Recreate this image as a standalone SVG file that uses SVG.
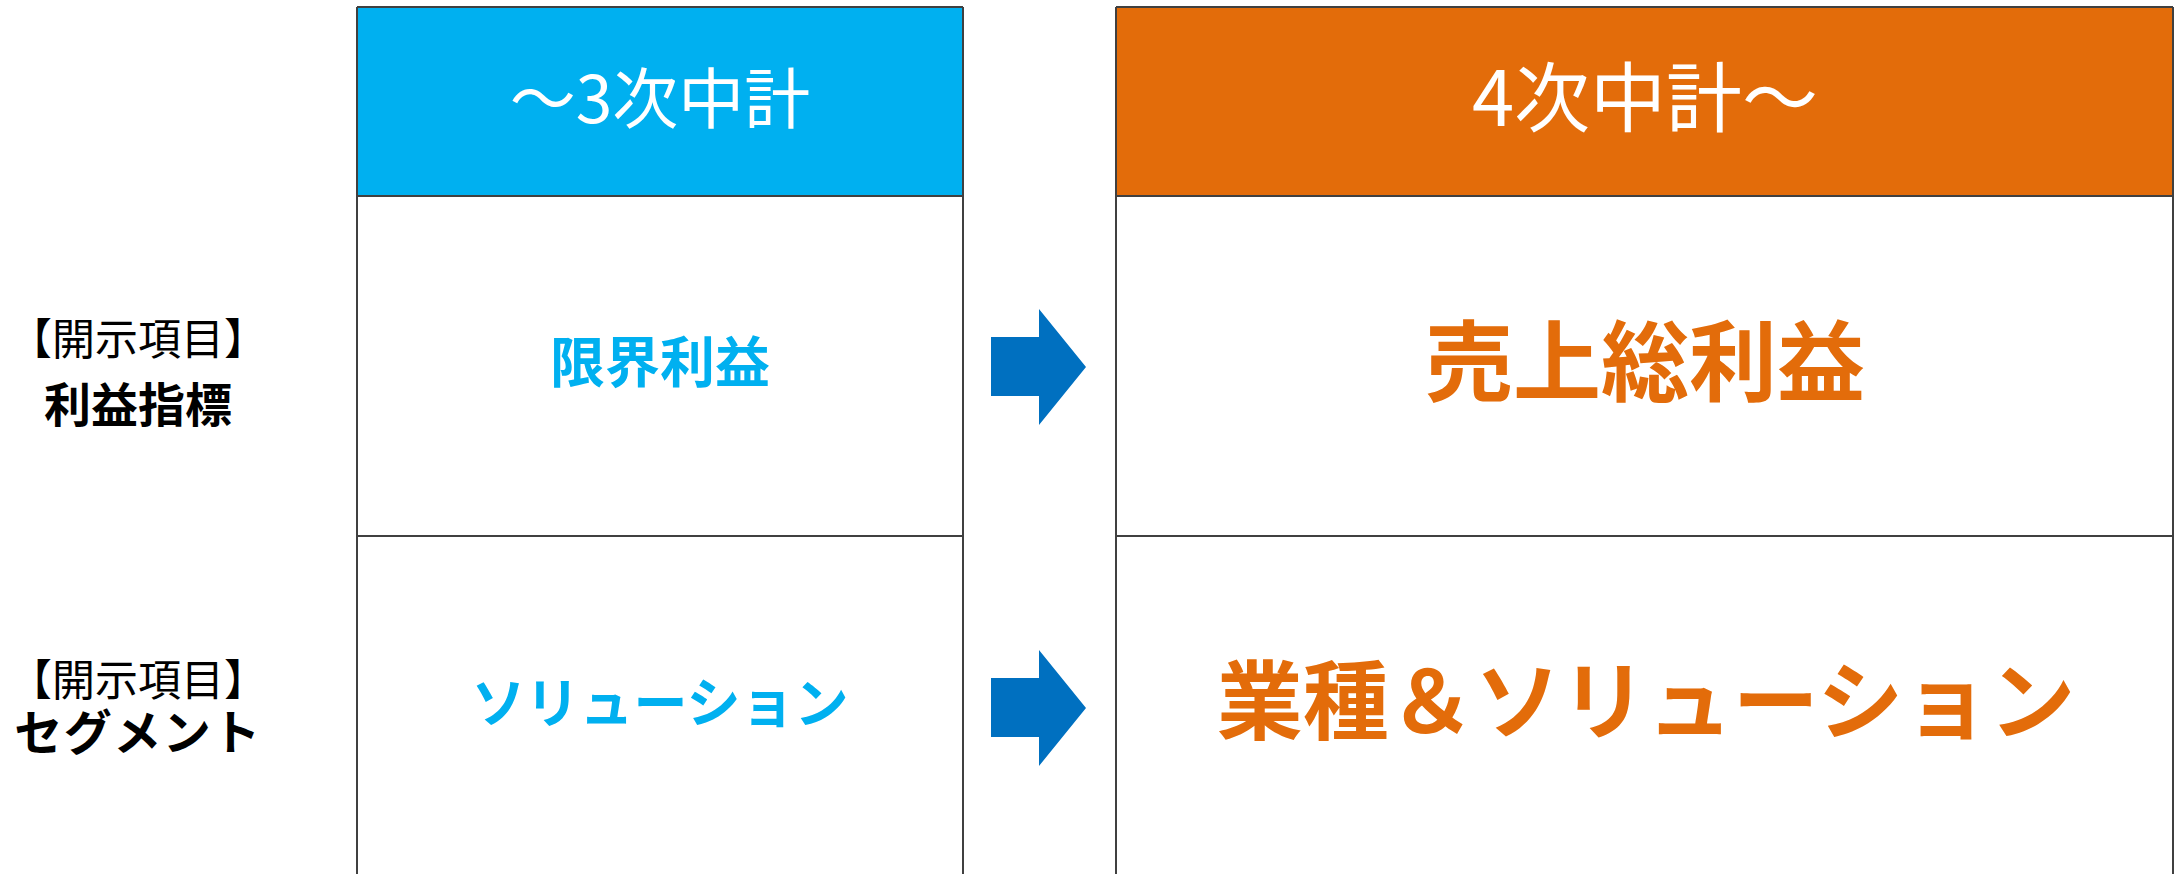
<svg xmlns="http://www.w3.org/2000/svg" width="2176" height="874" viewBox="0 0 2176 874">
<style>
.line{stroke:#404040;stroke-width:2;fill:none}
.jp{font-family:"Noto Sans CJK JP","Noto Sans CJK SC",sans-serif;text-anchor:middle}
.b{font-weight:700}
.hd{fill:#FFFFFF;font-weight:400}
.blue{fill:#00B0F0}
.orange{fill:#E36C0A}
.lbl{fill:#000000}
.arrow{fill:#0070C0}
</style>
<rect width="2176" height="874" fill="#FFFFFF"/>
<g id="row-labels">
<text class="jp lbl" x="138" y="355" font-size="43">【開示項目】<tspan class="b" x="138" y="422" font-size="47">利益指標</tspan></text>
<text class="jp lbl" x="138" y="696" font-size="43">【開示項目】<tspan class="b" x="138" y="750" font-size="48" letter-spacing="1.5">セグメント</tspan></text>
</g>
<g id="left-table">
<rect x="357" y="7" width="606" height="189" fill="#00B0F0"/>
<path class="line" d="M357,7 H963 M357,196 H963 M357,536 H963 M357,7 V874 M963,7 V874"/>
<text class="jp hd" x="660" y="123" font-size="66">～3次中計</text>
<text class="jp blue b" x="660" y="382" font-size="55">限界利益</text>
<text class="jp blue b" x="660" y="723" font-size="54">ソリューション</text>
</g>
<g id="right-table">
<rect x="1116" y="7" width="1057" height="189" fill="#E36C0A"/>
<path class="line" d="M1116,7 H2173 M1116,196 H2173 M1116,536 H2173 M1116,7 V874 M2173,7 V874"/>
<text class="jp hd" x="1645" y="126" font-size="76">4次中計～</text>
<text class="jp orange b" x="1645" y="394" font-size="88">売上総利益</text>
<text class="jp orange b" x="1646" y="733" font-size="86">業種＆ソリューション</text>
</g>
<g id="connectors">
<polygon class="arrow" points="991,337 1039,337 1039,309 1086,367 1039,425 1039,396 991,396"/>
<polygon class="arrow" points="991,678 1039,678 1039,650 1086,708 1039,766 1039,737 991,737"/>
</g>
</svg>
